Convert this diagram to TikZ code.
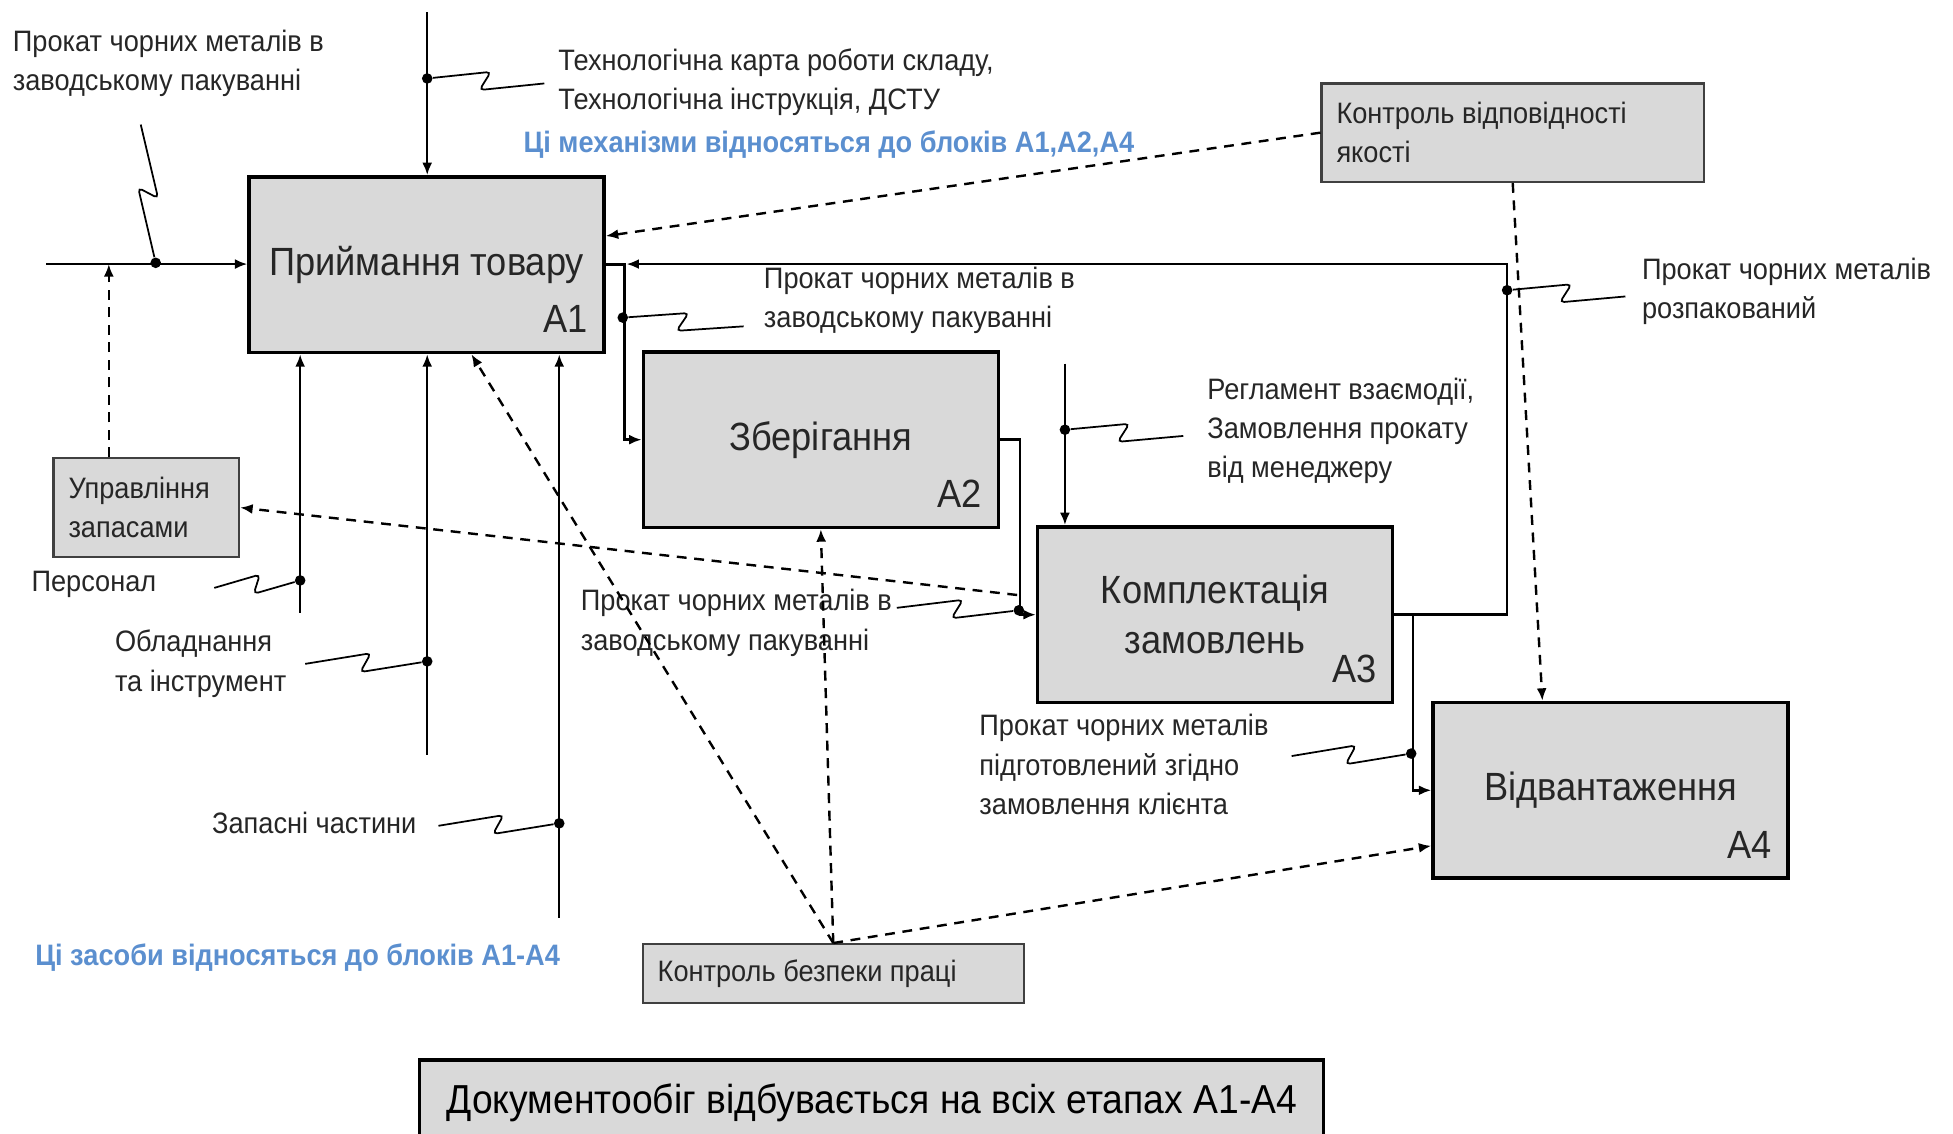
\documentclass[tikz,border=0pt]{standalone}
\usepackage{fontspec}
\setmainfont{Liberation Sans}[FakeStretch=0.92]
\usetikzlibrary{arrows.meta,calc}
\definecolor{boxgray}{HTML}{D9D9D9}
\definecolor{notecol}{HTML}{5B8FCF}
\definecolor{inkgray}{HTML}{262626}
\tikzset{
  funcbox/.style={draw=black, line width=1.6pt, fill=boxgray, minimum width=5.7cm, minimum height=2.82cm,
    align=center, font=\fontsize{18}{23}\selectfont, text=inkgray},
  smallbox/.style={draw=black!75, line width=1pt, fill=boxgray, align=flush left, inner xsep=0.24cm,
    font=\fontsize{13.5}{18}\selectfont, text=inkgray},
  docbox/.style={draw=black, line width=1.4pt, fill=boxgray, minimum width=14.52cm, minimum height=1.38cm,
    font=\fontsize{18.5}{23}\selectfont, text=black},
  lbl/.style={inner sep=0pt, anchor=west, align=left, font=\fontsize{13.5}{18}\selectfont, text=inkgray},
  note/.style={inner sep=0pt, anchor=west, font=\bfseries\fontsize{13.5}{18}\selectfont, text=notecol},
  numlbl/.style={inner sep=0pt, anchor=south east, font=\fontsize{18}{23}\selectfont, text=inkgray},
  dot/.style={circle, fill=black, inner sep=0pt, minimum size=0.17cm},
  flow/.style={line width=1.1pt, -{Latex[length=0.2cm,width=0.16cm]}},
  ctrl/.style={flow, dash pattern=on 4.5pt off 3.5pt},
  squig/.style={line width=0.8pt, rounded corners=2pt}
}
\newcommand{\squig}[2]{\draw[squig] (#1) -- ($(#1)!0.54!(#2)!0.15cm!90:(#2)$)
  -- ($(#1)!0.45!(#2)!0.15cm!-90:(#2)$) -- (#2);}
\begin{document}
\begin{tikzpicture}[x=0.02cm,y=-0.02cm]
  \useasboundingbox (0,0) rectangle (1568,910);
  \draw
    (342.5,212.5) node[funcbox] (a1) {Приймання товару}
    (659,353) node[funcbox] (a2) {Зберігання}
    (975.5,493.5) node[funcbox] (a3) {Комплектація\\замовлень}
    (1293,634.5) node[funcbox] (a4) {Відвантаження}
    (1214.5,106.5) node[smallbox, text width=5.66cm, minimum height=1.58cm] (qual) {Контроль відповідності\\якості}
    (117.5,407.5) node[smallbox, text width=2.5cm, minimum height=1.58cm] (zap) {Управління\\запасами}
    (669,781.5) node[smallbox, text width=5.64cm, minimum height=0.94cm] (bez) {Контроль безпеки праці}
    (700,885.5) node[docbox] (doc) {Документообіг відбувається на всіх етапах А1-А4};
  \node[numlbl] (na1) at ([xshift=-0.28cm,yshift=0.34cm]a1.south east) {A1};
  \node[numlbl] (na2) at ([xshift=-0.28cm,yshift=0.34cm]a2.south east) {A2};
  \node[numlbl] (na3) at ([xshift=-0.28cm,yshift=0.34cm]a3.south east) {A3};
  \node[numlbl] (na4) at ([xshift=-0.28cm,yshift=0.34cm]a4.south east) {A4};
  \draw
    (10,51) node[lbl] (lin) {Прокат чорних металів в\\заводському пакуванні}
    (448,66) node[lbl] (ltech) {Технологічна карта роботи складу,\\Технологічна інструкція, ДСТУ}
    (420,116) node[note] (lmech) {Ці механізми відносяться до блоків А1,А2,А4}
    (613,241) node[lbl] (lout1) {Прокат чорних металів в\\заводському пакуванні}
    (1318,234) node[lbl] (lunp) {Прокат чорних металів\\розпакований}
    (969,346) node[lbl] (lreg) {Регламент взаємодії,\\Замовлення прокату\\від менеджеру}
    (466,500) node[lbl] (lout2) {Прокат чорних металів в\\заводському пакуванні}
    (786,614) node[lbl] (lprep) {Прокат чорних металів\\підготовлений згідно\\замовлення клієнта}
    (25,469) node[lbl] (lpers) {Персонал}
    (92,533) node[lbl] (lequip) {Обладнання\\та інструмент}
    (170,661) node[lbl] (lparts) {Запасні частини}
    (28,769) node[note] (lmeans) {Ці засоби відносяться до блоків А1-А4};
  \coordinate (inStart) at (37,212);
  \coordinate (ctlA1) at (343,10);
  \coordinate (ctlA3) at (855,292);
  \coordinate (fbTop) at (1210,212);
  \coordinate (fbEnd) at (503,212);
  \coordinate (mPers) at (241,492);
  \coordinate (mEquip) at (343,606);
  \coordinate (mParts) at (449,737);
  \coordinate (zapTop) at ($(zap.north west)!0.3!(zap.north east)$);
  \begin{scope}
    \draw[flow] (inStart) -- (inStart -| a1.west);
    \draw[flow] (ctlA1) -- (ctlA1 |- a1.north);
    \draw[flow] (a1.east) -- ++(15,0) |- (a2.west);
    \draw[flow] (a3.east) -| (fbTop) -- (fbEnd);
    \draw[flow] (a2.east) -- ++(16,0) |- (a3.west);
    \draw[flow] (ctlA3) -- (ctlA3 |- a3.north);
    \draw[flow] (a3.east) -- ++(15,0) |- (a4.west);
    \draw[flow] (mPers) -- (mPers |- a1.south);
    \draw[flow] (mEquip) -- (mEquip |- a1.south);
    \draw[flow] (mParts) -- (mParts |- a1.south);
  \end{scope}
  \begin{scope}
    \draw[ctrl] (zapTop) -- (zapTop |- inStart);
    \draw[ctrl] (qual.west) -- ($(a1.north east)!0.34!(a1.south east)$);
    \draw[ctrl] (qual.south) -- ($(a4.north west)!0.31!(a4.north east)$);
    \draw[ctrl] ([xshift=-0.3cm]$(a3.north west)!0.39!(a3.south west)$) -- (zap.east);
    \draw[ctrl] (bez.north) -- ($(a1.south west)!0.625!(a1.south east)$);
    \draw[ctrl] (bez.north) -- (a2.south);
    \draw[ctrl] (bez.north) -- ($(a4.north west)!0.81!(a4.south west)$);
  \end{scope}
  \draw
    (125,211) node[dot] (d1) {}
    (343,63) node[dot] (d2) {}
    (500,255) node[dot] (d3) {}
    (1210,233) node[dot] (d4) {}
    (855,345) node[dot] (d5) {}
    (818,490) node[dot] (d6) {}
    (1133,605) node[dot] (d7) {}
    (241,466) node[dot] (d8) {}
    (343,531) node[dot] (d9) {}
    (449,661) node[dot] (d10) {};
  \coordinate (e1) at (113,100);
  \coordinate (e2) at (437,67);
  \coordinate (e3) at (597,262);
  \coordinate (e4) at (1305,238);
  \coordinate (e5) at (950,350);
  \coordinate (e6) at (720,488);
  \coordinate (e7) at (1037,607);
  \coordinate (e8) at (172,472);
  \coordinate (e9) at (245,533);
  \coordinate (e10) at (352,663);
  \squig{e1}{d1}
  \squig{d2}{e2}
  \squig{d3}{e3}
  \squig{d4}{e4}
  \squig{d5}{e5}
  \squig{e6}{d6}
  \squig{e7}{d7}
  \squig{e8}{d8}
  \squig{e9}{d9}
  \squig{e10}{d10}
\end{tikzpicture}
\end{document}
